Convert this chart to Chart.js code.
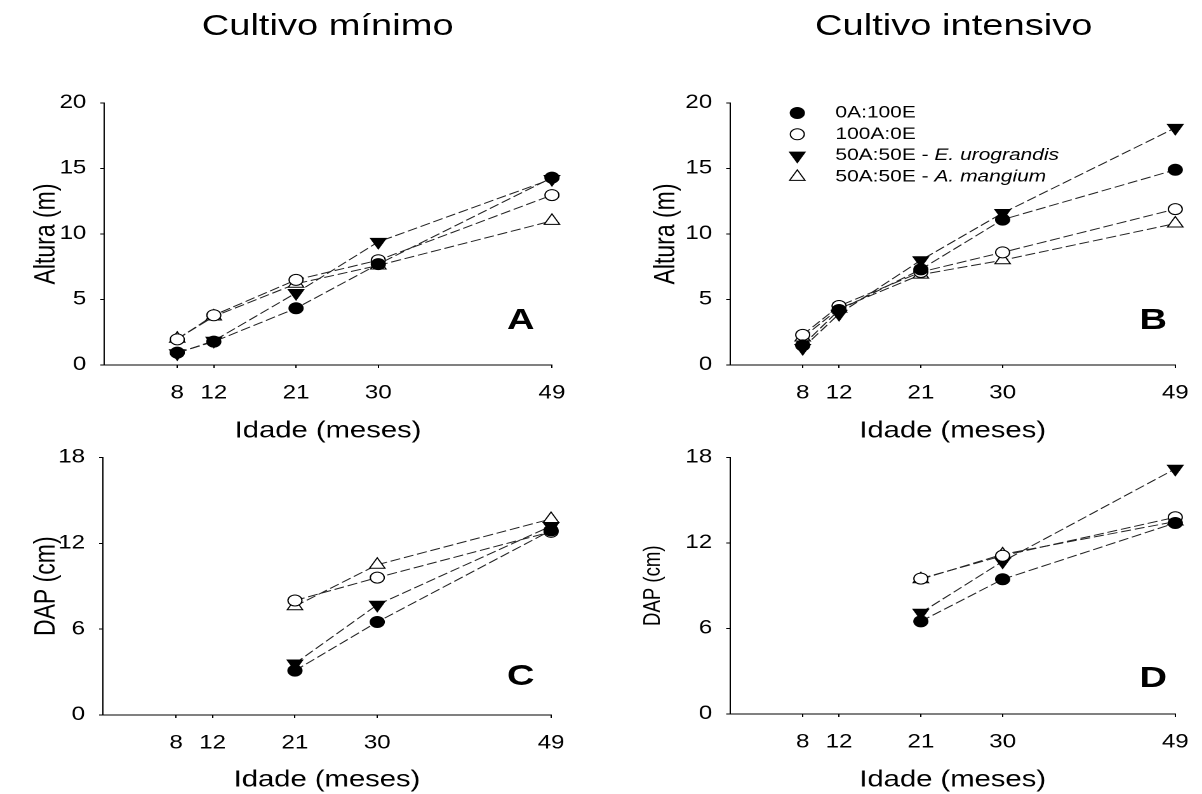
<!DOCTYPE html>
<html>
<head>
<meta charset="utf-8">
<script src="https://cdn.jsdelivr.net/npm/chart.js@4.4.0/dist/chart.umd.min.js"></script>
<style>
  html, body { margin: 0; padding: 0; background: #fff; }
  body { width: 1202px; height: 794px; overflow: hidden; }
  /* the reference is drawn a bit wide, so the whole page is stretched horizontally */
  #page { position: relative; width: 947px; height: 794px; transform: scaleX(1.27); transform-origin: 0 0;
          font-family: "Liberation Sans", Arial, sans-serif; color: #000; }
  #page canvas { position: absolute; }
  .title { position: absolute; font-size: 30px; line-height: 1; white-space: nowrap; transform: translate(-50%, -50%); }
  .letter { position: absolute; font-size: 30px; font-weight: bold; line-height: 1; transform: translate(-50%, -50%); }
</style>
</head>
<body>
<div id="page">
  <div class="title" style="left:258px; top:25px">Cultivo mínimo</div>
  <div class="title" style="left:751px; top:25px">Cultivo intensivo</div>
  <canvas id="chartA" width="470" height="375" style="left:0; top:70px"></canvas>
  <canvas id="chartB" width="470" height="375" style="left:480px; top:70px"></canvas>
  <canvas id="chartC" width="470" height="359" style="left:0; top:435px"></canvas>
  <canvas id="chartD" width="470" height="359" style="left:480px; top:435px"></canvas>
  <div class="letter" style="left:410px; top:319px">A</div>
  <div class="letter" style="left:908px; top:319px">B</div>
  <div class="letter" style="left:410px; top:675px">C</div>
  <div class="letter" style="left:908px; top:677px">D</div>
</div>
<script>
// idade (meses)
const months = [8, 12, 21, 30, 49];
const dapMonths = [21, 30, 49];

const seriesNames = ["0A:100E", "100A:0E", "50A:50E - ", "50A:50E - "];
const seriesSpecies = ["", "", "E. urograndis", "A. mangium"];

// Altura (m) - cultivo minimo
const alturaMin0A100E = [0.94, 1.78, 4.33, 7.7, 14.3];
const alturaMin100A0E = [1.96, 3.8, 6.5, 8.0, 12.97];
const alturaMin50Eu = [0.9, 1.85, 5.5, 9.4, 14.2];
const alturaMin50Am = [2.0, 3.7, 6.2, 7.6, 11.0];

// Altura (m) - cultivo intensivo
const alturaInt0A100E = [1.5, 4.2, 7.3, 11.1, 14.9];
const alturaInt100A0E = [2.3, 4.5, 7.1, 8.6, 11.9];
const alturaInt50Eu = [1.3, 3.9, 8.0, 11.6, 18.1];
const alturaInt50Am = [2.1, 4.3, 6.9, 8.0, 10.8];

// DAP (cm) - cultivo minimo
const dapMin0A100E = [3.1, 6.5, 12.9];
const dapMin100A0E = [8.0, 9.6, 12.8];
const dapMin50Eu = [3.6, 7.7, 13.2];
const dapMin50Am = [7.6, 10.5, 13.7];

// DAP (cm) - cultivo intensivo
const dapInt0A100E = [6.5, 9.45, 13.4];
const dapInt100A0E = [9.5, 11.1, 13.8];
const dapInt50Eu = [7.1, 10.7, 17.2];
const dapInt50Am = [9.45, 11.2, 13.5];

const alturaTicks = [0, 5, 10, 15, 20];
const dapTicks = [0, 6, 12, 18];

const FONT = '"Liberation Sans", Arial, sans-serif';
const markers = [
  { style: "circle", bg: "#000", r: 5.5, rot: 0 },
  { style: "circle", bg: "#fff", r: 5.5, rot: 0 },
  { style: "triangle", bg: "#000", r: 7, rot: 180 },
  { style: "triangle", bg: "#fff", r: 7, rot: 0 },
];

function makeDatasets(xs, series) {
  return series.map((vals, i) => ({
    label: seriesNames[i] + seriesSpecies[i],
    data: xs.map((x, j) => ({ x: x, y: vals[j] })),
    borderColor: "#222",
    borderWidth: 1,
    borderDash: [8, 3],
    pointStyle: markers[i].style,
    pointRadius: markers[i].r,
    pointRotation: markers[i].rot,
    pointBackgroundColor: markers[i].bg,
    pointBorderColor: "#000",
    pointBorderWidth: 1,
    tension: 0,
    fill: false,
    clip: false,
  }));
}

// legend drawn inside panel B
const insideLegend = {
  id: "insideLegend",
  afterDraw(chart) {
    if (!chart.options.plugins.insideLegend.show) return;
    const ctx = chart.ctx;
    const area = chart.chartArea;
    ctx.save();
    chart.data.datasets.forEach((ds, i) => {
      const y = area.top + 10 + i * 21.3;
      const mx = area.left + 53;
      ctx.fillStyle = ds.pointBackgroundColor;
      ctx.strokeStyle = "#000";
      ctx.lineWidth = 1;
      Chart.helpers.drawPoint(ctx, {
        pointStyle: ds.pointStyle,
        radius: ds.pointRadius,
        rotation: ds.pointRotation,
        borderWidth: 1,
      }, mx, y);
      ctx.fillStyle = "#000";
      ctx.textBaseline = "middle";
      ctx.textAlign = "left";
      let tx = area.left + 83;
      ctx.font = "16.5px " + FONT;
      ctx.fillText(seriesNames[i], tx, y);
      if (seriesSpecies[i]) {
        tx += ctx.measureText(seriesNames[i]).width;
        ctx.font = "italic 16.5px " + FONT;
        ctx.fillText(seriesSpecies[i], tx, y);
      }
    });
    ctx.restore();
  },
};

function makeChart(id, xs, series, cfg) {
  return new Chart(document.getElementById(id), {
    type: "line",
    data: { datasets: makeDatasets(xs, series) },
    plugins: [insideLegend],
    options: {
      responsive: false,
      animation: false,
      devicePixelRatio: 2,
      layout: { padding: { top: cfg.padTop, right: cfg.padRight, left: 0, bottom: 0 } },
      plugins: {
        legend: { display: false },
        tooltip: { enabled: false },
        insideLegend: { show: !!cfg.legend },
      },
      scales: {
        x: {
          type: "linear",
          min: 0,
          max: 49,
          afterBuildTicks: (s) => { s.ticks = months.map((v) => ({ value: v })); },
          afterFit: (s) => { s.height = cfg.xHeight; },
          grid: { drawOnChartArea: false, drawTicks: true, tickLength: 3, color: "#000" },
          border: { display: true, color: "#000", width: 1 },
          ticks: { color: "#000", font: { size: 19, family: FONT }, padding: 14, maxRotation: 0, autoSkip: false },
          title: { display: true, text: "Idade (meses)", color: "#000", font: { size: 23, family: FONT },
                   padding: { top: 0, bottom: cfg.xTitlePad } },
        },
        y: {
          min: 0,
          max: cfg.yTicks[cfg.yTicks.length - 1],
          afterBuildTicks: (s) => { s.ticks = cfg.yTicks.map((v) => ({ value: v })); },
          afterFit: (s) => { s.width = cfg.yWidth; },
          grid: { drawOnChartArea: false, drawTicks: true, tickLength: 3, color: "#000" },
          border: { display: true, color: "#000", width: 1 },
          ticks: { color: "#000", font: { size: 19, family: FONT }, padding: 11 },
          title: { display: true, text: cfg.yTitle, color: "#000", font: { size: cfg.yTitleSize, family: FONT },
                   padding: { top: cfg.yTitlePad, bottom: 0 } },
        },
      },
    },
  });
}

makeChart("chartA", months, [alturaMin0A100E, alturaMin100A0E, alturaMin50Eu, alturaMin50Am], {
  padTop: 33, padRight: 35.4, xHeight: 80, xTitlePad: 0, yWidth: 82,
  yTicks: alturaTicks, yTitle: "Altura (m)", yTitleSize: 23, yTitlePad: 23,
});
makeChart("chartB", months, [alturaInt0A100E, alturaInt100A0E, alturaInt50Eu, alturaInt50Am], {
  padTop: 33, padRight: 22.4, xHeight: 80, xTitlePad: 0, yWidth: 94.8,
  yTicks: alturaTicks, yTitle: "Altura (m)", yTitleSize: 23, yTitlePad: 31, legend: true,
});
makeChart("chartC", dapMonths, [dapMin0A100E, dapMin100A0E, dapMin50Eu, dapMin50Am], {
  padTop: 18, padRight: 36.1, xHeight: 79, xTitlePad: 0, yWidth: 81,
  yTicks: dapTicks, yTitle: "DAP (cm)", yTitleSize: 23, yTitlePad: 23,
});
makeChart("chartD", dapMonths, [dapInt0A100E, dapInt100A0E, dapInt50Eu, dapInt50Am], {
  padTop: 17, padRight: 22.4, xHeight: 80, xTitlePad: 0, yWidth: 94.8,
  yTicks: dapTicks, yTitle: "DAP (cm)", yTitleSize: 18.6, yTitlePad: 23,
});
</script>
</body>
</html>
